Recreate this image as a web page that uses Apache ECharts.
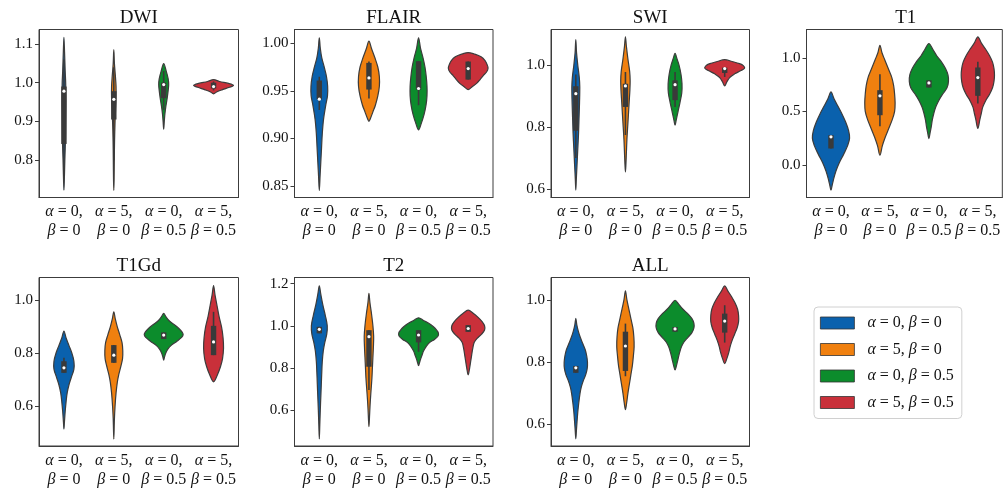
<!DOCTYPE html>
<html>
<head>
<meta charset="utf-8">
<script src="https://cdn.jsdelivr.net/npm/echarts@6/dist/echarts.min.js"></script>
<style>html,body{margin:0;padding:0;background:#fff}#c{width:1003px;height:492px}</style>
</head>
<body>
<div id="c"></div>
<script>
// ---------- DATA ----------
const categories = ['α = 0,\nβ = 0', 'α = 5,\nβ = 0', 'α = 0,\nβ = 0.5', 'α = 5,\nβ = 0.5'];
const legendNames = ['α = 0, β = 0', 'α = 5, β = 0', 'α = 0, β = 0.5', 'α = 5, β = 0.5'];
const panelTitles = ['DWI', 'FLAIR', 'SWI', 'T1', 'T1Gd', 'T2', 'ALL'];

// y-axis limits and ticks per panel
const DWI_range = [0.704, 1.137];   const DWI_ticks = [0.8, 0.9, 1.0, 1.1];
const FLAIR_range = [0.8377, 1.0148]; const FLAIR_ticks = [0.85, 0.90, 0.95, 1.00];
const SWI_range = [0.572, 1.1155];  const SWI_ticks = [0.6, 0.8, 1.0];
const T1_range = [-0.305, 1.265];   const T1_ticks = [0.0, 0.5, 1.0];
const T1Gd_range = [0.449, 1.087];  const T1Gd_ticks = [0.6, 0.8, 1.0];
const T2_range = [0.428, 1.2296];   const T2_ticks = [0.6, 0.8, 1.0, 1.2];
const ALL_range = [0.531, 1.072];   const ALL_ticks = [0.6, 0.8, 1.0];
const tickDecimals = [1, 2, 1, 1, 1, 1, 1];

// violin outlines: [value, half-width in category units], top to bottom, one list per group
const DWI_violin = [
  [[1.117,0],[1.08,0.012],[1.03,0.025],[1.0,0.035],[0.96,0.04],[0.9,0.035],[0.85,0.03],[0.8,0.018],[0.75,0.008],[0.723,0]],
  [[1.085,0],[1.05,0.012],[1.02,0.03],[0.99,0.045],[0.96,0.045],[0.93,0.035],[0.9,0.025],[0.85,0.015],[0.8,0.01],[0.75,0.006],[0.722,0]],
  [[1.049,0],[1.03,0.05],[1.01,0.09],[0.995,0.1],[0.98,0.09],[0.96,0.07],[0.94,0.045],[0.92,0.025],[0.9,0.012],[0.88,0]],
  [[1.008,0],[1.003,0.12],[0.998,0.3],[0.993,0.4],[0.988,0.32],[0.982,0.18],[0.976,0.06],[0.971,0]]
];
const FLAIR_violin = [
  [[1.006,0],[0.995,0.02],[0.985,0.05],[0.975,0.1],[0.965,0.145],[0.955,0.168],[0.945,0.165],[0.935,0.13],[0.92,0.085],[0.905,0.06],[0.89,0.045],[0.875,0.03],[0.86,0.015],[0.845,0]],
  [[1.0025,0],[0.995,0.05],[0.985,0.12],[0.975,0.18],[0.965,0.21],[0.955,0.21],[0.945,0.18],[0.935,0.13],[0.928,0.08],[0.921,0.03],[0.918,0]],
  [[1.006,0],[0.995,0.04],[0.985,0.09],[0.975,0.13],[0.965,0.155],[0.955,0.17],[0.945,0.17],[0.935,0.15],[0.925,0.11],[0.915,0.05],[0.909,0]],
  [[0.9905,0],[0.989,0.12],[0.986,0.26],[0.982,0.34],[0.978,0.38],[0.974,0.4],[0.970,0.37],[0.966,0.3],[0.962,0.24],[0.958,0.17],[0.954,0.07],[0.9515,0]]
];
const SWI_violin = [
  [[1.083,0],[1.04,0.015],[1.0,0.04],[0.96,0.07],[0.93,0.08],[0.88,0.075],[0.83,0.065],[0.78,0.055],[0.73,0.04],[0.68,0.025],[0.63,0.01],[0.596,0]],
  [[1.092,0],[1.06,0.02],[1.02,0.05],[0.98,0.085],[0.95,0.095],[0.92,0.09],[0.88,0.075],[0.84,0.06],[0.80,0.045],[0.76,0.03],[0.72,0.02],[0.68,0.01],[0.655,0]],
  [[1.038,0],[1.02,0.04],[1.0,0.08],[0.97,0.12],[0.94,0.14],[0.91,0.135],[0.88,0.1],[0.85,0.06],[0.82,0.02],[0.806,0]],
  [[1.018,0],[1.012,0.15],[1.005,0.3],[0.998,0.38],[0.99,0.4],[0.982,0.32],[0.972,0.2],[0.96,0.1],[0.945,0.04],[0.933,0]]
];
const T1_violin = [
  [[0.682,0],[0.62,0.06],[0.55,0.14],[0.48,0.22],[0.40,0.3],[0.32,0.36],[0.25,0.38],[0.18,0.34],[0.10,0.26],[0.02,0.17],[-0.06,0.1],[-0.14,0.05],[-0.2,0.02],[-0.237,0]],
  [[1.118,0],[1.05,0.04],[0.98,0.1],[0.9,0.17],[0.82,0.24],[0.74,0.28],[0.66,0.3],[0.58,0.31],[0.5,0.3],[0.42,0.25],[0.34,0.18],[0.26,0.11],[0.18,0.05],[0.09,0]],
  [[1.134,0],[1.08,0.08],[1.02,0.16],[0.96,0.26],[0.90,0.34],[0.84,0.39],[0.78,0.4],[0.72,0.37],[0.66,0.28],[0.60,0.2],[0.54,0.14],[0.48,0.1],[0.42,0.07],[0.36,0.05],[0.30,0.025],[0.246,0]],
  [[1.196,0],[1.14,0.07],[1.08,0.16],[1.02,0.24],[0.96,0.3],[0.9,0.33],[0.84,0.34],[0.78,0.33],[0.72,0.3],[0.66,0.24],[0.6,0.16],[0.54,0.1],[0.48,0.07],[0.42,0.04],[0.34,0]]
];
const T1Gd_violin = [
  [[0.884,0],[0.86,0.04],[0.83,0.1],[0.80,0.16],[0.77,0.2],[0.74,0.2],[0.71,0.15],[0.68,0.1],[0.65,0.065],[0.62,0.045],[0.58,0.025],[0.54,0.01],[0.513,0]],
  [[0.957,0],[0.93,0.03],[0.9,0.07],[0.87,0.12],[0.84,0.165],[0.81,0.18],[0.78,0.175],[0.75,0.14],[0.72,0.1],[0.69,0.07],[0.65,0.045],[0.6,0.025],[0.55,0.012],[0.475,0]],
  [[0.951,0],[0.94,0.04],[0.925,0.1],[0.91,0.2],[0.895,0.3],[0.88,0.37],[0.87,0.39],[0.86,0.36],[0.845,0.26],[0.83,0.15],[0.815,0.08],[0.8,0.04],[0.785,0.015],[0.774,0]],
  [[1.056,0],[1.02,0.03],[0.98,0.07],[0.94,0.11],[0.9,0.16],[0.86,0.19],[0.82,0.2],[0.78,0.18],[0.75,0.14],[0.72,0.08],[0.692,0]]
];
const T2_violin = [
  [[1.19,0],[1.15,0.03],[1.1,0.07],[1.05,0.12],[1.0,0.16],[0.96,0.15],[0.92,0.11],[0.88,0.08],[0.83,0.06],[0.78,0.05],[0.72,0.04],[0.66,0.03],[0.6,0.02],[0.53,0.01],[0.462,0]],
  [[1.154,0],[1.11,0.02],[1.06,0.05],[1.0,0.08],[0.95,0.095],[0.9,0.09],[0.85,0.08],[0.8,0.07],[0.75,0.06],[0.7,0.045],[0.65,0.03],[0.6,0.018],[0.55,0.008],[0.52,0]],
  [[1.038,0],[1.025,0.1],[1.01,0.22],[0.995,0.3],[0.98,0.36],[0.965,0.4],[0.95,0.39],[0.935,0.32],[0.92,0.22],[0.9,0.15],[0.88,0.1],[0.86,0.07],[0.84,0.04],[0.825,0.02],[0.81,0]],
  [[1.074,0],[1.06,0.1],[1.04,0.2],[1.02,0.28],[1.0,0.33],[0.98,0.33],[0.96,0.27],[0.94,0.18],[0.92,0.12],[0.89,0.09],[0.86,0.07],[0.83,0.05],[0.8,0.03],[0.766,0]]
];
const ALL_violin = [
  [[0.941,0],[0.92,0.02],[0.9,0.05],[0.88,0.09],[0.86,0.14],[0.84,0.19],[0.82,0.22],[0.8,0.235],[0.78,0.23],[0.76,0.2],[0.74,0.15],[0.72,0.11],[0.7,0.085],[0.67,0.06],[0.64,0.04],[0.61,0.025],[0.58,0.012],[0.554,0]],
  [[1.029,0],[1.0,0.03],[0.97,0.07],[0.94,0.11],[0.91,0.15],[0.88,0.17],[0.85,0.175],[0.82,0.16],[0.79,0.14],[0.76,0.11],[0.73,0.08],[0.7,0.05],[0.67,0.025],[0.648,0]],
  [[0.999,0],[0.985,0.08],[0.97,0.16],[0.955,0.26],[0.94,0.34],[0.925,0.38],[0.91,0.38],[0.895,0.34],[0.88,0.26],[0.865,0.18],[0.85,0.13],[0.83,0.09],[0.81,0.06],[0.79,0.03],[0.775,0]],
  [[1.045,0],[1.03,0.06],[1.01,0.14],[0.99,0.21],[0.97,0.26],[0.95,0.28],[0.93,0.28],[0.91,0.25],[0.89,0.2],[0.87,0.15],[0.85,0.11],[0.83,0.08],[0.81,0.04],[0.795,0]]
];

// inner box: [whisker low, q1, median, q3, whisker high]
const DWI_box = [[0.76,0.842,0.978,0.99,1.06],[0.8,0.905,0.957,0.978,1.04],[0.93,0.96,0.995,1.0,1.03],[0.98,0.985,0.99,1.0,1.003]];
const FLAIR_box = [[0.93,0.941,0.9413,0.961,0.965],[0.942,0.9515,0.9638,0.9796,0.981],[0.935,0.9515,0.9526,0.9814,0.9814],[0.962,0.962,0.9736,0.981,0.981]];
const SWI_box = [[0.7,0.788,0.908,0.932,0.97],[0.774,0.865,0.933,0.94,0.978],[0.865,0.887,0.937,0.951,0.978],[0.962,0.975,0.989,0.992,0.992]];
const T1_box = [[0.153,0.153,0.262,0.277,0.277],[0.36,0.464,0.645,0.698,0.847],[0.723,0.723,0.766,0.79,0.79],[0.573,0.645,0.816,0.91,0.963]];
const T1Gd_box = [[0.726,0.726,0.745,0.77,0.783],[0.764,0.764,0.793,0.831,0.831],[0.854,0.854,0.869,0.879,0.879],[0.793,0.793,0.843,0.904,0.957]];
const T2_box = [[0.964,0.964,0.983,0.995,0.995],[0.694,0.805,0.948,0.979,0.979],[0.876,0.921,0.956,0.979,0.979],[0.971,0.971,0.987,1.003,1.003]];
const ALL_box = [[0.766,0.766,0.782,0.788,0.788],[0.755,0.772,0.852,0.898,0.924],[0.898,0.898,0.907,0.913,0.913],[0.863,0.895,0.932,0.956,0.983]];

// ---------- BUILD ----------
const ranges = [DWI_range, FLAIR_range, SWI_range, T1_range, T1Gd_range, T2_range, ALL_range];
const ticks = [DWI_ticks, FLAIR_ticks, SWI_ticks, T1_ticks, T1Gd_ticks, T2_ticks, ALL_ticks];
const violins = [DWI_violin, FLAIR_violin, SWI_violin, T1_violin, T1Gd_violin, T2_violin, ALL_violin];
const boxes = [DWI_box, FLAIR_box, SWI_box, T1_box, T1Gd_box, T2_box, ALL_box];
const colors = ['#0a61ad', '#f0800f', '#0c8c2c', '#c9303a'];

const gridLayout = [
  {left: 39, top: 29.5, width: 199.5, height: 168},
  {left: 294.5, top: 29.5, width: 198.5, height: 168},
  {left: 551, top: 29.5, width: 198.5, height: 168},
  {left: 806.5, top: 29.5, width: 198.5, height: 168},
  {left: 39, top: 277.5, width: 199.5, height: 168.5},
  {left: 294.5, top: 277.5, width: 198.5, height: 168.5},
  {left: 551, top: 277.5, width: 198.5, height: 168.5}
];

const SERIF = '"Liberation Serif", "Times New Roman", serif';
const EDGE = '#3c3c3c';
const rich = { i: { fontStyle: 'italic', fontFamily: SERIF, fontSize: 16, color: '#111' } };
function greekRich(s) { return s.replace(/([αβ])/g, '{i|$1}'); }

function makeRender(profile, box) {
  return function (params, api) {
    const g = api.value(0);
    const band = api.size([1, 0])[0];
    const right = [], left = [];
    for (const [v, w] of profile) {
      const p = api.coord([g, v]);
      right.push([p[0] + w * band, p[1]]);
      left.push([p[0] - w * band, p[1]]);
    }
    const pts = right.concat(left.slice(1, -1).reverse());
    const c = api.coord([g, box[2]]);
    const yWlo = api.coord([g, box[0]])[1], yQ1 = api.coord([g, box[1]])[1];
    const yQ3 = api.coord([g, box[3]])[1], yWhi = api.coord([g, box[4]])[1];
    return {
      type: 'group',
      children: [
        { type: 'polygon', shape: { points: pts, smooth: 0.35 },
          style: { fill: api.visual('color'), stroke: EDGE, lineWidth: 1.2 } },
        { type: 'line', shape: { x1: c[0], y1: yWhi, x2: c[0], y2: yWlo },
          style: { stroke: '#3a3a3a', lineWidth: 1.6 } },
        { type: 'rect', shape: { x: c[0] - 2.7, y: yQ3, width: 5.4, height: Math.max(yQ1 - yQ3, 1) },
          style: { fill: '#3a3a3a' } },
        { type: 'circle', shape: { cx: c[0], cy: c[1], r: 1.6 }, style: { fill: '#ffffff' } }
      ]
    };
  };
}

const grids = [], xAxes = [], yAxes = [], series = [], titles = [];
for (let p = 0; p < 7; p++) {
  const L = gridLayout[p];
  grids.push(Object.assign({ show: true, borderColor: EDGE, borderWidth: 1, containLabel: false }, L));
  titles.push({ text: panelTitles[p], left: L.left + L.width / 2, top: L.top - 21, textAlign: 'center', padding: 0,
    textStyle: { fontFamily: SERIF, fontSize: 19, fontWeight: 'normal', color: '#111' } });
  xAxes.push({
    type: 'category', gridIndex: p, data: categories,
    axisLine: { onZero: false, lineStyle: { color: EDGE, width: 1 } },
    axisTick: { alignWithLabel: true, length: 4, lineStyle: { color: EDGE } },
    axisLabel: { interval: 0, hideOverlap: false, margin: 5, fontFamily: SERIF, fontSize: 16, color: '#111',
      lineHeight: 19, formatter: (v) => greekRich(v), rich: rich }
  });
  const dec = tickDecimals[p];
  yAxes.push({
    type: 'value', gridIndex: p, min: ranges[p][0], max: ranges[p][1],
    splitLine: { show: false },
    axisLine: { show: true, onZero: false, lineStyle: { color: EDGE, width: 1 } },
    axisTick: { show: true, length: 4, lineStyle: { color: EDGE }, customValues: ticks[p] },
    axisLabel: { margin: 6, fontFamily: SERIF, fontSize: 15, color: '#111', customValues: ticks[p],
      formatter: (v) => Number(v).toFixed(dec) }
  });
  for (let g = 0; g < 4; g++) {
    series.push({
      type: 'custom', name: legendNames[g], xAxisIndex: p, yAxisIndex: p,
      itemStyle: { color: colors[g] }, clip: false,
      data: [[g, boxes[p][g][2]]],
      renderItem: makeRender(violins[p][g], boxes[p][g])
    });
  }
}

const chart = echarts.init(document.getElementById('c'), null, { renderer: 'canvas' });
chart.setOption({
  animation: false,
  backgroundColor: '#ffffff',
  title: titles,
  grid: grids,
  xAxis: xAxes,
  yAxis: yAxes,
  legend: {
    data: legendNames.map(n => ({ name: n, icon: 'rect' })),
    orient: 'vertical', left: 814, top: 307,
    itemWidth: 34, itemHeight: 12, itemGap: 10.5,
    padding: [8, 8, 8, 6],
    borderColor: '#d0d0d0', borderWidth: 1, borderRadius: 4, backgroundColor: '#ffffff',
    itemStyle: { borderColor: '#333', borderWidth: 0.8 },
    selectedMode: false,
    formatter: (n) => greekRich(n),
    textStyle: { fontFamily: SERIF, fontSize: 16, color: '#111', padding: [0, 0, 0, 8], rich: rich }
  },
  series: series
});
</script>
</body>
</html>
